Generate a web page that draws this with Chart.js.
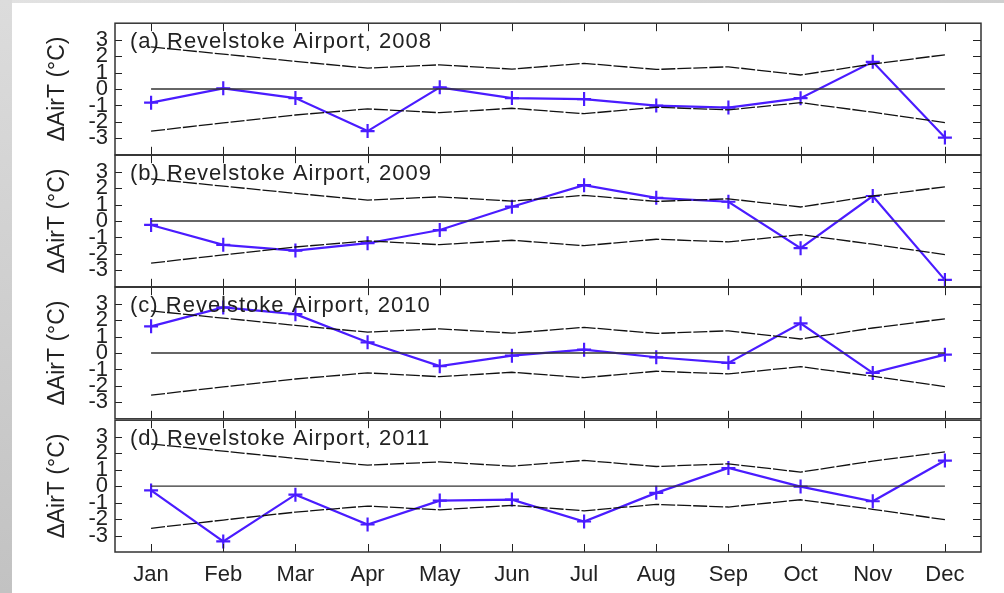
<!DOCTYPE html>
<html>
<head>
<meta charset="utf-8">
<script src="https://cdn.jsdelivr.net/npm/chart.js@4.4.1/dist/chart.umd.min.js"></script>
<style>
  body { margin: 0; width: 1004px; height: 593px; background: #fff; position: relative; overflow: hidden; }
  #topStrip { position: absolute; left: 0; top: 0; width: 1004px; height: 3px; background: linear-gradient(to right, #e2e2e2, #cfcfcf); }
  #leftStrip { position: absolute; left: 0; top: 0; width: 12px; height: 593px; background: linear-gradient(to bottom, #dcdcdc, #c2c2c2); }
  canvas { position: absolute; left: 0; }
</style>
</head>
<body>
<div id="topStrip"></div>
<div id="leftStrip"></div>
<canvas id="p0" width="1004" height="172"></canvas>
<canvas id="p1" width="1004" height="172"></canvas>
<canvas id="p2" width="1004" height="172"></canvas>
<canvas id="p3" width="1004" height="193"></canvas>
<script>
// months on x axis
const months = ["Jan", "Feb", "Mar", "Apr", "May", "Jun", "Jul", "Aug", "Sep", "Oct", "Nov", "Dec"];
const yTicks = [-3, -2, -1, 0, 1, 2, 3];

// envelope (same in every panel)
const upperBand = [2.56, 2.12, 1.68, 1.27, 1.47, 1.21, 1.56, 1.19, 1.35, 0.85, 1.52, 2.08];
const lowerBand = [-2.56, -2.06, -1.58, -1.21, -1.44, -1.17, -1.50, -1.11, -1.27, -0.83, -1.41, -2.04];
const zeroLine = [0, 0, 0, 0, 0, 0, 0, 0, 0, 0, 0, 0];

// monthly air temperature anomalies
const airT2008 = [-0.83, 0.04, -0.55, -2.56, 0.10, -0.55, -0.61, -1.01, -1.13, -0.56, 1.65, -2.95];
const airT2009 = [-0.24, -1.45, -1.80, -1.35, -0.55, 0.87, 2.18, 1.41, 1.17, -1.65, 1.52, -3.58];
const airT2010 = [1.62, 2.77, 2.36, 0.65, -0.80, -0.16, 0.20, -0.26, -0.60, 1.80, -1.21, -0.10];
const airT2011 = [-0.26, -3.36, -0.52, -2.33, -0.88, -0.82, -2.15, -0.41, 1.10, -0.03, -0.92, 1.55];

const panelTitles = [
  "(a) Revelstoke Airport, 2008",
  "(b) Revelstoke Airport, 2009",
  "(c) Revelstoke Airport, 2010",
  "(d) Revelstoke Airport, 2011"
];
const panelSeries = [airT2008, airT2009, airT2010, airT2011];
const panelTops = [23, 155, 287, 420];

const FONT = '"Liberation Sans", Arial, Helvetica, sans-serif';
const BLUE = '#4a1cff';

// inward ticks on all four sides, frame, panel label
const frameTicks = {
  id: 'frameTicks',
  afterDraw(chart, args, opts) {
    const { ctx, chartArea: a, scales: { x, y } } = chart;
    ctx.save();
    ctx.strokeStyle = '#222';
    ctx.lineWidth = 1;
    ctx.beginPath();
    x.ticks.forEach((t, i) => {
      const px = Math.round(x.getPixelForTick(i)) + 0.5;
      ctx.moveTo(px, a.top); ctx.lineTo(px, a.top + 8);
      ctx.moveTo(px, a.bottom); ctx.lineTo(px, a.bottom - 8);
    });
    y.ticks.forEach((t, i) => {
      const py = Math.round(y.getPixelForTick(i)) + 0.5;
      ctx.moveTo(a.left, py); ctx.lineTo(a.left + 7, py);
      ctx.moveTo(a.right, py); ctx.lineTo(a.right - 8, py);
    });
    ctx.stroke();
    ctx.strokeStyle = '#333';
    ctx.lineWidth = 1.5;
    ctx.strokeRect(a.left, a.top, a.width, a.height);
    ctx.fillStyle = '#222';
    ctx.font = '22px ' + FONT;
    ctx.letterSpacing = '1px';
    ctx.textBaseline = 'middle';
    ctx.fillText(opts.title, a.left + 15, a.top + 19);
    ctx.restore();
  }
};

function makePanel(idx) {
  const last = idx === 3;
  const canvas = document.getElementById('p' + idx);
  canvas.style.top = (panelTops[idx] - 20) + 'px';
  return new Chart(canvas, {
    type: 'line',
    data: {
      labels: months,
      datasets: [
        { data: upperBand, borderColor: '#111', borderWidth: 1.3, borderDash: [14, 2], pointRadius: 0 },
        { data: lowerBand, borderColor: '#111', borderWidth: 1.3, borderDash: [14, 2], pointRadius: 0 },
        { data: zeroLine, borderColor: '#333', borderWidth: 1.3, pointRadius: 0 },
        {
          data: panelSeries[idx],
          borderColor: BLUE,
          borderWidth: 2.2,
          pointStyle: 'cross',
          pointRadius: 7,
          pointBorderWidth: 2.2,
          pointBorderColor: BLUE,
          pointBackgroundColor: BLUE
        }
      ]
    },
    options: {
      responsive: false,
      animation: false,
      layout: { padding: { top: 20, bottom: last ? 0 : 20, left: 0, right: 23 } },
      plugins: {
        legend: { display: false },
        tooltip: { enabled: false },
        frameTicks: { title: panelTitles[idx] }
      },
      scales: {
        x: {
          type: 'category',
          offset: true,
          grid: { display: false, drawTicks: false },
          border: { display: false },
          ticks: {
            display: last,
            autoSkip: false,
            maxRotation: 0,
            padding: 10,
            color: '#222',
            font: { family: FONT, size: 22 }
          },
          afterFit(scale) { scale.height = last ? 41 : 0; }
        },
        y: {
          min: -4,
          max: 4,
          afterBuildTicks(scale) { scale.ticks = yTicks.map(v => ({ value: v })); },
          grid: { display: false, drawTicks: false },
          border: { display: false },
          ticks: {
            autoSkip: false,
            padding: 7,
            color: '#222',
            font: { family: FONT, size: 22 },
            callback: v => String(v)
          },
          title: {
            display: true,
            text: 'ΔAirT (°C)',
            color: '#222',
            font: { family: FONT, size: 23 },
            padding: { top: 44, bottom: 0 }
          },
          afterFit(scale) { scale.width = 115; }
        }
      }
    },
    plugins: [frameTicks]
  });
}

panelSeries.forEach((s, i) => makePanel(i));
</script>
</body>
</html>
